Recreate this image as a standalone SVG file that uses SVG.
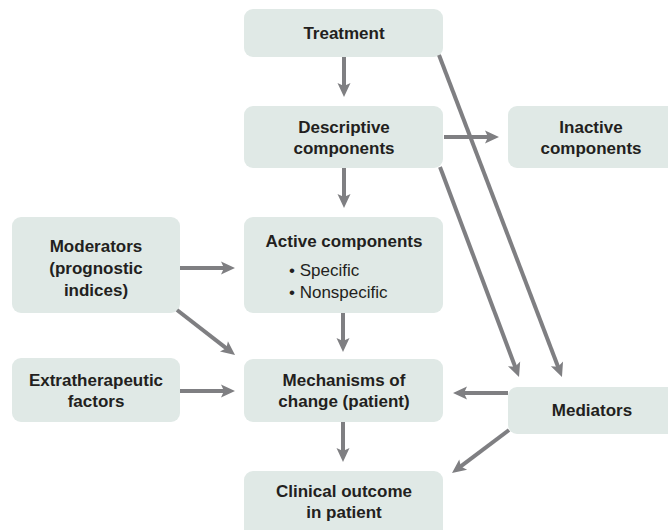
<svg xmlns="http://www.w3.org/2000/svg" width="668" height="530" viewBox="0 0 668 530">
<defs>
<marker id="ah" markerUnits="userSpaceOnUse" markerWidth="16" markerHeight="14" refX="6" refY="6.5" orient="auto" overflow="visible">
<path d="M0,0 L14,6.5 L0,13 L3,6.5 Z" fill="#7f7f82"/>
</marker>
<style>
.box{fill:#e0e9e6}
.t{font-family:"Liberation Sans",Arial,sans-serif;font-size:17px;font-weight:bold;fill:#231f20;text-anchor:middle}
.r{font-family:"Liberation Sans",Arial,sans-serif;font-size:17px;fill:#231f20}
.c{stroke:#7f7f82;stroke-width:4;fill:none;marker-end:url(#ah)}
</style>
</defs>
<rect width="668" height="530" fill="#ffffff"/>
<g id="treatment"><rect class="box" x="244" y="9" width="199" height="48" rx="9"/><text class="t" x="344" y="39">Treatment</text></g>
<g id="descriptive"><rect class="box" x="244" y="106" width="199" height="62" rx="9"/><text class="t" x="344" y="133">Descriptive</text><text class="t" x="344" y="154">components</text></g>
<g id="inactive"><rect class="box" x="508" y="106" width="175" height="62" rx="9"/><text class="t" x="591" y="133">Inactive</text><text class="t" x="591" y="154">components</text></g>
<g id="moderators"><rect class="box" x="12" y="217" width="168" height="96" rx="9"/><text class="t" x="96" y="252">Moderators</text><text class="t" x="96" y="274">(prognostic</text><text class="t" x="96" y="296">indices)</text></g>
<g id="active"><rect class="box" x="244" y="217" width="199" height="96" rx="9"/><text class="t" x="344" y="247">Active components</text><text class="r" x="289" y="276">• Specific</text><text class="r" x="289" y="298">• Nonspecific</text></g>
<g id="extratherapeutic"><rect class="box" x="12" y="358" width="168" height="64" rx="9"/><text class="t" x="96" y="386">Extratherapeutic</text><text class="t" x="96" y="407">factors</text></g>
<g id="mechanisms"><rect class="box" x="244" y="359" width="199" height="63" rx="9"/><text class="t" x="344" y="386">Mechanisms of</text><text class="t" x="344" y="407">change (patient)</text></g>
<g id="mediators"><rect class="box" x="508" y="387" width="175" height="47" rx="9"/><text class="t" x="592" y="416">Mediators</text></g>
<g id="clinical"><rect class="box" x="244" y="471" width="199" height="70" rx="9"/><text class="t" x="344" y="497">Clinical outcome</text><text class="t" x="344" y="518">in patient</text></g>
<g id="connectors">
<line class="c" x1="344" y1="57" x2="344" y2="89"/>
<line class="c" x1="444" y1="137" x2="491" y2="137"/>
<line class="c" x1="344" y1="168" x2="344" y2="200"/>
<line class="c" x1="180" y1="268" x2="227" y2="268"/>
<line class="c" x1="343" y1="313" x2="343" y2="344"/>
<line class="c" x1="343" y1="422" x2="343" y2="454"/>
<line class="c" x1="180" y1="391" x2="227" y2="391"/>
<line class="c" x1="177" y1="310" x2="228.7" y2="350.1"/>
<line class="c" x1="440" y1="167" x2="516.2" y2="369.5"/>
<line class="c" x1="439" y1="55" x2="559.1" y2="369.5"/>
<line class="c" x1="508" y1="393" x2="461" y2="393"/>
<line class="c" x1="509" y1="430" x2="458.4" y2="468.2"/>
</g>
</svg>
